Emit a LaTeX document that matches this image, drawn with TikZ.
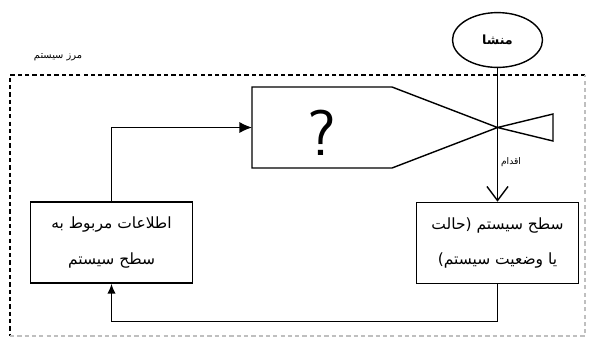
\documentclass[tikz,border=0pt]{standalone}
\usepackage{fontspec}
\usepackage{tikz}
\usetikzlibrary{arrows.meta}
\usetikzlibrary{shapes.geometric}
\newfontfamily\farsifont[Script=Arabic]{DejaVu Sans}
\TeXXeTstate=1
\newcommand{\fa}[1]{{\farsifont\beginR #1\endR}}

\tikzset{
  sysbox/.style={draw, line width=1pt, minimum width=4.05cm, minimum height=2.03cm,
    align=center, font={\farsifont\fontsize{11}{25}\selectfont}},
  flow/.style={line width=1pt},
  border/.style={line width=1pt, dash pattern=on 3pt off 2.2pt},
}

\begin{document}
\begin{tikzpicture}[x=0.025cm, y=-0.025cm]
  \useasboundingbox (0,0) rectangle (590,338);

  % System border
  \draw[border] (585,75) -- (10,75) -- (10,336);
  \draw[border, gray!50] (10,336) -- (585,336) -- (585,75);
  \node[font={\farsifont\fontsize{7}{8}\selectfont}] (borderlabel) at (58,57) {\fa{مرز سیستم}};

  % Source
  \node[draw, ellipse, line width=1pt, minimum width=2.25cm, minimum height=1.37cm,
        font={\farsifont\bfseries\fontsize{9}{10}\selectfont}] (src) at (497.5,40) {\fa{منشا}};

  % Valve
  \coordinate (valvein) at (252,127.5);
  \coordinate (valvemid) at (497.5,127.5);
  \draw[flow] (valvein) -- (252,87) -- (392,87) -- (valvemid) -- (553,114)
    -- (553,141) -- (valvemid) -- (392,168) -- (252,168) -- cycle;
  \node[font={\sffamily\fontsize{46}{48}\selectfont}] (query) at (322,133) {?};

  % Boxes
  \node[sysbox] (state) at (497.5,243) {\fa{سطح سیستم (حالت}\\\fa{یا وضعیت سیستم)}};
  \node[sysbox] (info) at (111.5,242.5) {\fa{اطلاعات مربوط به}\\\fa{سطح سیستم}};

  % Action
  \draw[flow, -{Straight Barb[length=10pt, width=15pt, line width=1pt]}] (src.south) -- (state.north);
  \node[font={\farsifont\fontsize{6.5}{7}\selectfont}] (act) at (511,162) {\fa{اقدام}};

  % Feedback
  \draw[flow, -{Latex[length=7pt, width=6pt]}] (state.south) -- ++(0,37) -| (info.south);
  \draw[flow, -{Latex[length=9pt, width=8pt]}] (info.north) |- (valvein);
\end{tikzpicture}
\end{document}
